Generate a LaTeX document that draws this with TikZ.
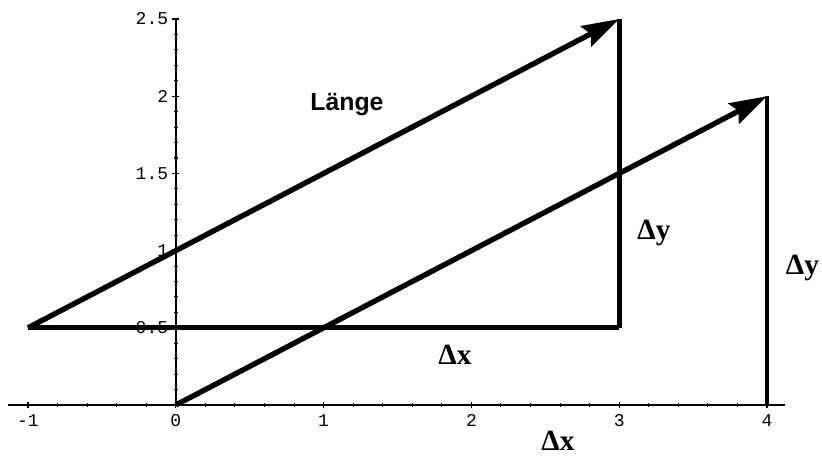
\documentclass[tikz,border=0pt]{standalone}
\usepackage{fontspec}
\setmainfont{Liberation Serif}
\newfontfamily\labfont{Liberation Sans}
\newfontfamily\tickfont{Liberation Mono}
\usetikzlibrary{arrows.meta}
\begin{document}
\begin{tikzpicture}[x=110.85pt,y=115.8pt,
  vec/.style={line width=4pt,-{Stealth[length=28pt,width=17pt,inset=4pt]}},
  leg/.style={line width=3.5pt},
  axisline/.style={line width=1.3pt},
  tickmark/.style={line width=0.8pt},
  ticklab/.style={font=\tickfont\fontsize{13.5}{15}\selectfont,inner sep=0pt},
  delta/.style={font=\bfseries\fontsize{22}{24}\selectfont,inner sep=0pt},
  lenlab/.style={font=\labfont\bfseries\fontsize{18.6}{20}\selectfont,inner sep=0pt}]
\useasboundingbox (-1.1894,-0.3368) rectangle (4.3721,2.6231);
% axes
\coordinate (xs) at (-1.135,0);
\coordinate (xe) at (4.12,0);
\coordinate (ys) at (0,0);
\coordinate (ye) at (0,2.5);
\draw[axisline] (xs) -- (xe);
\draw[axisline] (ys) -- (ye);
\foreach \i in {-1,-0.8,...,4.1} \draw[tickmark] (\i,0) ++(0,-1.6pt) -- ++(0,3.2pt);
\foreach \i in {-1,0,1,2,3,4} \draw[tickmark] (\i,0) ++(0,-2.5pt) -- ++(0,5pt);
\foreach \j in {0.1,0.2,...,2.55} \draw[tickmark] (0,\j) ++(-1.6pt,0) -- ++(3.2pt,0);
\foreach \j in {0.5,1,1.5,2,2.5} \draw[tickmark] (0,\j) ++(-2.5pt,0) -- ++(5pt,0);
% tick labels
\foreach \i/\t in {-1/-1,0/0,1/1,2/2,3/3,4/4}
  \node[ticklab] (xl\i) at (\i,-0.1) {\t};
\foreach \j/\t in {0.5/0.5,1/1,1.5/1.5,2/2,2.5/2.5}
  \node[ticklab,anchor=east] (yl\t) at (-0.05,\j) {\t};
% points
\coordinate (A) at (-1,0.5);
\coordinate (B) at (3,2.5);
\coordinate (C) at (3,0.5);
\coordinate (O) at (0,0);
\coordinate (D) at (4,2);
\coordinate (E) at (4,0);
% legs
\draw[leg] (A) -- (C);
\draw[leg] (C) -- (B);
\draw[leg] (E) -- (D);
% vectors
\draw[vec] (A) -- (B);
\draw[vec] (O) -- (D);
% labels
\node[lenlab] (len) at (1.158,1.943) {Länge};
\node[delta] (dy1) at (3.235,1.114) {Δy};
\node[delta] (dy2) at (4.24,0.887) {Δy};
\node[delta] (dx1) at (1.889,0.324) {Δx};
\node[delta] (dx2) at (2.586,-0.23) {Δx};
\end{tikzpicture}
\end{document}
